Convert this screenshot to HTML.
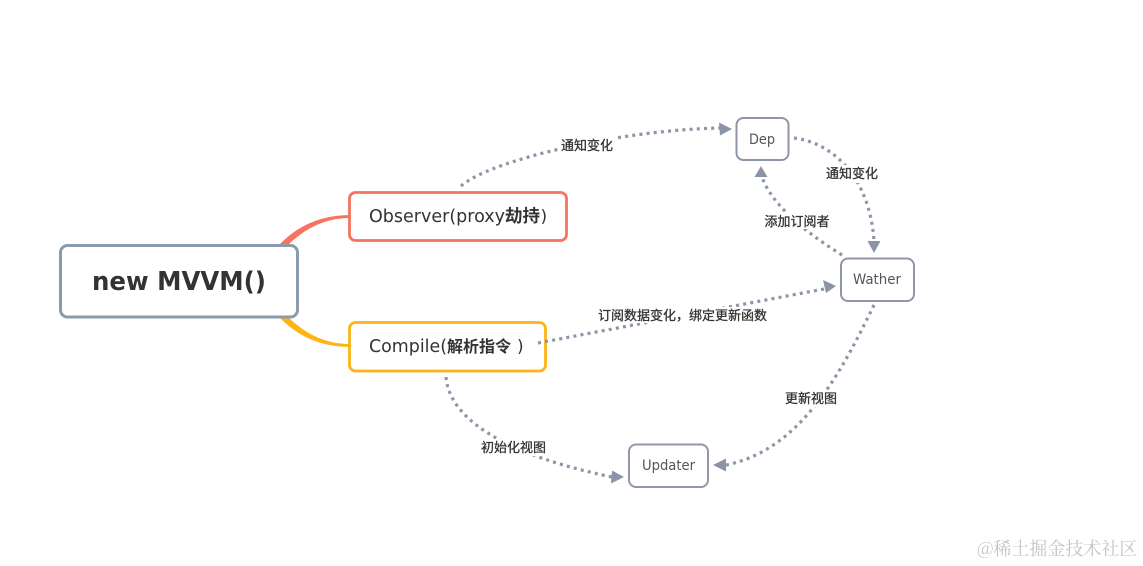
<!DOCTYPE html>
<html><head><meta charset="utf-8">
<style>
html,body{margin:0;padding:0;background:#fff;width:1143px;height:566px;overflow:hidden}
svg{display:block}
text{font-family:"Liberation Sans","Noto Sans CJK SC",sans-serif}
.n{font-family:"DejaVu Sans","Noto Sans CJK SC",sans-serif}
.l{font-family:"Noto Sans CJK SC","Liberation Sans",sans-serif;font-size:13px;fill:#333;stroke:#333;stroke-width:.3px;text-anchor:middle}
.d{fill:none;stroke:#8d95a6;stroke-width:3.2;stroke-dasharray:3 4.2}
.a{fill:#8b93a6}
.b{fill:#fff;stroke-width:2.8}
</style></head>
<body>
<svg width="1143" height="566" viewBox="0 0 1143 566" xmlns="http://www.w3.org/2000/svg">
<rect width="1143" height="566" fill="#fff"/>

<!-- mind-map branches -->
<path d="M350,215 C320,215.500 298,225 277,247 L286,247 C302,231 322,218 350,218 Z" fill="#f5735f"/>
<path d="M350,347 C320,346.500 298,337 277,315 L286,315 C302,331 322,344 350,344 Z" fill="#fdb515"/>

<!-- dotted connectors behind nodes -->
<path class="d" d="M461,186 C490,160 620,130 720,128"/>
<polygon class="a" points="732,129 719,122.500 720,135.500"/>
<path class="d" d="M794,138 C835,143 870,180 874,241"/>
<polygon class="a" points="874,253 867.500,241 880.500,241"/>
<path class="d" d="M842,255 C805,232 772,205 762,177"/>
<polygon class="a" points="761,166 754.500,177 767.500,177"/>
<path class="d" d="M446,377 C450,425 520,458 612,477"/>
<polygon class="a" points="624,477 612,470.500 611,483.500"/>
<path class="d" d="M874,305 C840,375 800,450 726,465"/>
<polygon class="a" points="713,465 726,458.500 726,471.500"/>

<!-- nodes -->
<rect class="b" x="60.500" y="245.500" width="237" height="71.500" rx="7" stroke="#8a9bad" style="stroke-width:3"/>
<rect class="b" x="349.500" y="192.500" width="217" height="48" rx="6" stroke="#f5735f"/>
<rect class="b" x="349.500" y="322.500" width="196" height="48.500" rx="6" stroke="#fdb515"/>
<rect class="b" x="736.500" y="118" width="52" height="42" rx="7" stroke="#8d95a6" style="stroke-width:2"/>
<rect class="b" x="841" y="258.500" width="73" height="42.500" rx="7" stroke="#8d97a8" style="stroke-width:2"/>
<rect class="b" x="629" y="444.500" width="79" height="42.500" rx="7" stroke="#9397a9" style="stroke-width:2"/>

<!-- connector over the Compile node -->
<path class="d" d="M538,343 L824,289"/>
<polygon class="a" points="836,286 823,280 826,293"/>

<!-- node text -->
<text class="n" x="92" y="290" font-size="26" font-weight="700" fill="#333" textLength="174" lengthAdjust="spacingAndGlyphs">new MVVM()</text>
<text class="n" x="369" y="222" font-size="18" fill="#333" textLength="136" lengthAdjust="spacingAndGlyphs">Observer(proxy</text>
<text x="505" y="222" font-size="17.500" font-weight="700" fill="#333" style="font-family:'Noto Sans CJK SC',sans-serif">劫持</text>
<text class="n" x="540.500" y="222" font-size="17" fill="#333">)</text>
<text class="n" x="369" y="352" font-size="18" fill="#333" textLength="78" lengthAdjust="spacingAndGlyphs">Compile(</text>
<text x="447" y="352" font-size="16" font-weight="700" fill="#333" style="font-family:'Noto Sans CJK SC',sans-serif">解析指令</text>
<text class="n" x="517" y="352" font-size="17" fill="#333">)</text>
<text class="n" x="749" y="144" font-size="14" fill="#555" textLength="26" lengthAdjust="spacingAndGlyphs">Dep</text>
<text class="n" x="853" y="284" font-size="14" fill="#555" textLength="48" lengthAdjust="spacingAndGlyphs">Wather</text>
<text class="n" x="642" y="470" font-size="14" fill="#555" textLength="53" lengthAdjust="spacingAndGlyphs">Updater</text>

<!-- connector labels -->
<rect x="559" y="135" width="55" height="20" fill="#fff"/>
<text class="l" x="587" y="150">通知变化</text>
<rect x="824" y="165" width="56" height="18" fill="#fff"/>
<text class="l" x="852" y="178">通知变化</text>
<rect x="763" y="212" width="68" height="17" fill="#fff"/>
<text class="l" x="797" y="226">添加订阅者</text>
<rect x="596" y="307" width="173" height="16" fill="#fff"/>
<text class="l" x="682.500" y="320">订阅数据变化，绑定更新函数</text>
<rect x="783" y="390" width="56" height="17" fill="#fff"/>
<text class="l" x="811" y="403">更新视图</text>
<rect x="479" y="439" width="69" height="17" fill="#fff"/>
<text class="l" x="513.500" y="452">初始化视图</text>

<!-- watermark -->
<text x="977" y="555" font-size="18" fill="#c4c4c4" style="font-family:'Noto Serif CJK SC','Noto Sans CJK SC',sans-serif">@稀土掘金技术社区</text>
</svg>
</body></html>
